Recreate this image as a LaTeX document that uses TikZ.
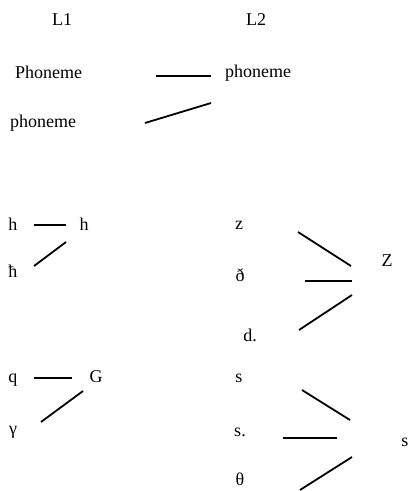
\documentclass[tikz,border=0pt]{standalone}
\usepackage{fontspec}
\setmainfont{Liberation Serif}
\usetikzlibrary{calc}
\tikzset{
  seg/.style={line width=1.8pt, line cap=butt},
  sym/.style={inner sep=0pt, font=\fontsize{18}{20}\selectfont},
  word/.style={sym, anchor=west}
}

\begin{document}
\begin{tikzpicture}[x=1pt, y=-1pt]
  \useasboundingbox (0,0) rectangle (409,491);
  % ---- Header ----
  \node[sym] (lone) at (62,20) {L1};
  \node[sym] (ltwo) at (256,20) {L2};
  % ---- Phoneme mapping ----
  \node[word] (phonUpper) at (15,72) {Phoneme};
  \node[word] (phonLower) at (10,123) {phoneme};
  \node[word] (phonTarget) at (225,73) {phoneme};
  \coordinate (pa1) at (156,76);  \coordinate (pa2) at (211,76);
  \coordinate (pb1) at (145,123); \coordinate (pb2) at (211,103);
  \draw[seg] (pa1) -- (pa2);
  \draw[seg] (pb1) -- (pb2);
  % ---- h, h-bar ----
  \node[sym] (hSrc) at (13,224) {h};
  \node[sym] (hBar) at (13,271) {ħ};
  \node[sym] (hDst) at (84,224) {h};
  \coordinate (ha1) at (34,225); \coordinate (ha2) at (66,225);
  \coordinate (hb1) at (34,266); \coordinate (hb2) at (66,242);
  \draw[seg] (ha1) -- (ha2);
  \draw[seg] (hb1) -- (hb2);
  % ---- z, eth, d. -> Z ----
  \node[sym] (zSrc) at (239,225) {z};
  \node[sym] (ethSrc) at (240,275) {ð};
  \node[sym] (dSrc) at (250,335) {d.};
  \node[sym] (zDst) at (387,261) {Z};
  \coordinate (za1) at (298,232); \coordinate (za2) at (351,266);
  \coordinate (zb1) at (305,281); \coordinate (zb2) at (352,281);
  \coordinate (zc1) at (299,330); \coordinate (zc2) at (352,295);
  \draw[seg] (za1) -- (za2);
  \draw[seg] (zb1) -- (zb2);
  \draw[seg] (zc1) -- (zc2);
  % ---- q, gamma -> G ----
  \node[sym] (qSrc) at (13,380) {q};
  \node[sym] (gamSrc) at (13,432) {γ};
  \node[sym] (gDst) at (96,377) {G};
  \coordinate (qa1) at (34,378); \coordinate (qa2) at (72,378);
  \coordinate (qb1) at (41,422); \coordinate (qb2) at (83,391);
  \draw[seg] (qa1) -- (qa2);
  \draw[seg] (qb1) -- (qb2);
  % ---- s, s., theta -> s ----
  \node[sym] (sSrc) at (239,378) {s};
  \node[sym] (sdSrc) at (240,432) {s.};
  \node[sym] (thSrc) at (240,479) {θ};
  \node[sym] (sDst) at (405,442) {s};
  \coordinate (sa1) at (302,390); \coordinate (sa2) at (350,420);
  \coordinate (sb1) at (283,438); \coordinate (sb2) at (337,438);
  \coordinate (sc1) at (300,490); \coordinate (sc2) at (352,457);
  \draw[seg] (sa1) -- (sa2);
  \draw[seg] (sb1) -- (sb2);
  \draw[seg] (sc1) -- (sc2);
\end{tikzpicture}
\end{document}
